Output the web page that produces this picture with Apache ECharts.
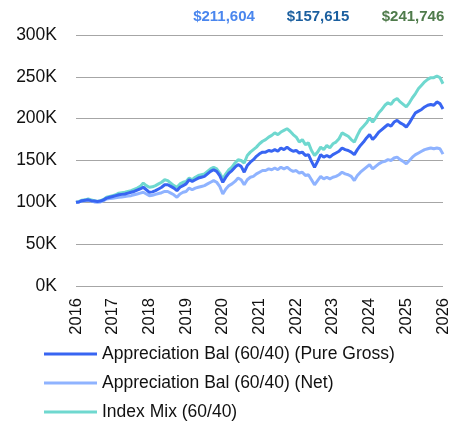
<!DOCTYPE html>
<html>
<head>
<meta charset="utf-8">
<script src="https://cdn.jsdelivr.net/npm/echarts@6/dist/echarts.min.js"></script>
<style>
  html, body { margin: 0; padding: 0; background: #fff; }
  #chart { width: 466px; height: 422px; }
</style>
</head>
<body>
<div id="chart"></div>
<script>
// Monthly growth of $100K, Jan 2016 – Jan 2026 (values in dollars / 1000)
const months = [];
for (let y = 2016; y <= 2026; y++) {
  for (let m = 1; m <= 12; m++) {
    if (y === 2026 && m > 1) break;
    months.push(y + '-' + String(m).padStart(2, '0'));
  }
}

const yTicks = ['0K', '50K', '100K', '150K', '200K', '250K', '300K'];

const grossName = 'Appreciation Bal (60/40) (Pure Gross)';
const netName = 'Appreciation Bal (60/40) (Net)';
const indexName = 'Index Mix (60/40)';

const grossValues = [
  100, 100.5, 102, 102.5, 103, 102, 101.5, 101, 101.5, 103, 105, 106,
  107, 108, 109, 109.5, 110, 111, 112, 113, 114.5, 116, 118, 115,
  112, 112.5, 114, 116, 118, 121, 121, 119, 117, 114, 118, 120,
  122, 127, 125, 127, 129, 130, 131, 134, 137, 139, 137, 132,
  124, 130, 135, 138, 142, 145, 143, 136, 144, 148, 151, 155,
  158, 160, 160, 162, 161, 163, 161, 165, 163, 166, 163, 161,
  162, 159, 160, 156, 157, 149, 142, 149, 157, 154, 156, 154,
  157, 159, 161, 165, 163, 162, 160, 157, 163, 168, 172, 177,
  181, 175, 179, 184, 187, 190, 193, 191, 196, 198, 195, 193,
  190, 195, 201, 207, 209, 211, 214, 216, 217, 216, 220, 218,
  211.604
];

const netValues = [
  100, 100.5, 101.5, 102, 102.5, 101.5, 100.5, 100, 100.5, 102, 104, 104.5,
  105, 105.5, 106, 106.5, 107, 107.5, 108, 109, 110, 111, 112, 110,
  108, 108.5, 109.5, 110.5, 111.5, 113, 113, 111, 109, 106, 110, 112,
  113, 117, 115, 117, 118, 119, 120, 122, 124, 126, 124, 119,
  110, 116, 120, 122, 125, 129, 127, 121, 127, 130, 131, 134,
  136, 138, 138, 140, 139, 141, 139, 142, 140, 142, 139, 137,
  138, 135, 136, 132, 133, 127, 121, 126, 131, 128, 130, 128,
  130, 131, 133, 136, 134, 133, 131, 126, 132, 136, 139, 142,
  145, 140, 143, 146, 148, 149, 151, 150, 153, 154, 151, 149,
  146, 150, 154, 157, 159, 161, 163, 164, 165, 164, 165, 164,
  157.615
];

const indexValues = [
  100, 101, 102.5, 103, 104, 103, 102, 101, 102, 103.5, 106, 107,
  108, 109, 111, 111.5, 112, 113, 114, 115.5, 117, 119, 123, 120,
  118, 118.5, 120, 122, 124, 127, 126, 123, 120, 118, 122, 124,
  125, 129, 127, 130, 132, 133, 134, 137, 140, 142, 140, 135,
  128, 134, 139, 142, 147, 151, 150, 147, 156, 160, 163, 166,
  170, 173, 175, 178, 180, 183, 181, 184, 186, 188, 185, 181,
  178, 172, 175, 169, 171, 162, 156, 160, 166, 163, 168, 165,
  170, 172, 176, 183, 181, 179, 175, 172, 180, 187, 191, 195,
  201, 196, 201, 207, 211, 216, 219, 217, 222, 224, 220, 217,
  214, 219, 225, 230, 236, 240, 244, 247, 249, 249, 251, 249,
  241.746
];

// Ending balances shown across the top
const endLabels = [
  { value: grossValues[grossValues.length - 1], color: '#4a86ee', x: 224 },
  { value: netValues[netValues.length - 1], color: '#1b5f9f', x: 318 },
  { value: indexValues[indexValues.length - 1], color: '#4f7b4b', x: 413 }
];

const fmtMoney = v => '$' + Math.round(v * 1000).toLocaleString('en-US');

const font = 'Liberation Sans, Arial, sans-serif';
const chart = echarts.init(document.getElementById('chart'));

chart.setOption({
  animation: false,
  backgroundColor: '#ffffff',
  textStyle: { fontFamily: font },
  grid: { left: 76, right: 23, top: 35, bottom: 136, containLabel: false },
  xAxis: {
    type: 'category',
    data: months,
    boundaryGap: false,
    axisLine: { show: false },
    axisTick: { show: false },
    axisLabel: {
      interval: 11,
      rotate: 90,
      margin: 12,
      fontSize: 16.5,
      color: '#111',
      fontFamily: font,
      formatter: v => v.slice(0, 4)
    },
    splitLine: { show: false }
  },
  yAxis: {
    type: 'value',
    min: 0,
    max: 300,
    interval: 50,
    axisLine: { show: false },
    axisTick: { show: false },
    axisLabel: {
      margin: 19,
      fontSize: 17.5,
      color: '#111',
      fontFamily: font,
      formatter: v => yTicks[Math.round(v / 50)]
    },
    splitLine: { lineStyle: { color: '#a6a6a6', width: 1 } }
  },
  legend: {
    orient: 'vertical',
    left: 39,
    top: 345,
    width: 420,
    height: 90,
    padding: [0, 0, 0, 5],
    itemWidth: 53,
    itemHeight: 3,
    itemGap: 11,
    icon: 'rect',
    textStyle: { fontSize: 17.5, color: '#111', fontFamily: font },
    data: [grossName, netName, indexName]
  },
  graphic: endLabels.map(l => ({
    type: 'text',
    x: l.x,
    y: 9,
    style: {
      text: fmtMoney(l.value),
      fill: l.color,
      font: 'bold 15px ' + font,
      textAlign: 'center'
    }
  })),
  series: [
    {
      name: indexName, type: 'line', data: indexValues,
      symbol: 'none', lineStyle: { width: 3, color: '#6fd8cf' }, itemStyle: { color: '#6fd8cf' }, z: 1
    },
    {
      name: netName, type: 'line', data: netValues,
      symbol: 'none', lineStyle: { width: 3, color: '#8fb3ff' }, itemStyle: { color: '#8fb3ff' }, z: 2
    },
    {
      name: grossName, type: 'line', data: grossValues,
      symbol: 'none', lineStyle: { width: 3, color: '#3865f2' }, itemStyle: { color: '#3865f2' }, z: 3
    }
  ]
});
</script>
</body>
</html>
